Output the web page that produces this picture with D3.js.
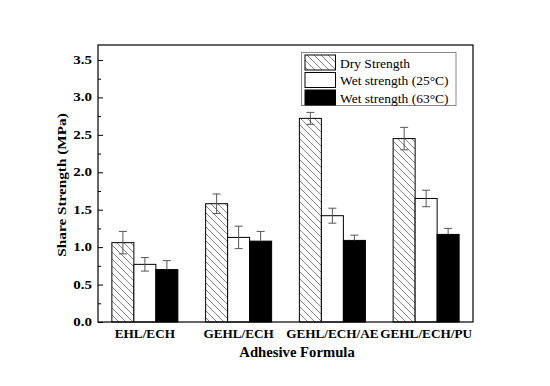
<!DOCTYPE html>
<html><head><meta charset="utf-8">
<script src="https://cdn.jsdelivr.net/npm/d3@7"></script>
<style>body{margin:0;background:#fff}svg{display:block}text{font-family:"Liberation Serif","Times New Roman",Times,serif}</style>
</head><body>
<script>
const categories = ["EHL/ECH", "GEHL/ECH", "GEHL/ECH/AE", "GEHL/ECH/PU"];
const seriesNames = ["Dry Strength", "Wet strength (25°C)", "Wet strength (63°C)"];
const dryValues = [1.06, 1.58, 2.72, 2.45];
const dryErrors = [0.15, 0.13, 0.08, 0.15];
const wet25Values = [0.77, 1.13, 1.42, 1.65];
const wet25Errors = [0.09, 0.15, 0.10, 0.11];
const wet63Values = [0.70, 1.08, 1.09, 1.17];
const wet63Errors = [0.12, 0.13, 0.07, 0.08];
const yTicks = [0.0, 0.5, 1.0, 1.5, 2.0, 2.5, 3.0, 3.5];
const yMinorTicks = [0.25, 0.75, 1.25, 1.75, 2.25, 2.75, 3.25];

const W = 550, H = 386;
const L = 98, R = 473, T = 45, B = 322;

const svg = d3.select("body").append("svg").attr("width", W).attr("height", H);
const defs = svg.append("defs");
const pat = defs.append("pattern").attr("id", "hatch").attr("patternUnits", "userSpaceOnUse")
  .attr("width", 7).attr("height", 7);
pat.append("rect").attr("width", 7).attr("height", 7).attr("fill", "#fff");
pat.append("path").attr("d", "M0,0 L7,7 M-1,6 L1,8 M6,-1 L8,1")
  .attr("stroke", "#777").attr("stroke-width", 0.9);

const fills = ["url(#hatch)", "#fff", "#000"];
const data = [
  {vals: dryValues, errs: dryErrors},
  {vals: wet25Values, errs: wet25Errors},
  {vals: wet63Values, errs: wet63Errors}
];

const x = d3.scaleBand().domain(categories).range([L, R]).paddingInner(0.296).paddingOuter(0.148);
const xs = d3.scaleBand().domain(d3.range(seriesNames.length)).range([0, x.bandwidth()]).padding(0);
const y = d3.scaleLinear().domain([0, 3.7]).range([B, T]);

data.forEach((s, si) => {
  const g = svg.append("g");
  g.selectAll("rect").data(categories).join("rect")
    .attr("x", c => x(c) + xs(si))
    .attr("y", (c, i) => y(s.vals[i]))
    .attr("width", xs.bandwidth())
    .attr("height", (c, i) => y(0) - y(s.vals[i]))
    .attr("fill", fills[si])
    .attr("stroke", "#000").attr("stroke-width", 1);
  categories.forEach((c, i) => {
    const cx = x(c) + xs(si) + xs.bandwidth() / 2;
    const top = y(s.vals[i] + s.errs[i]);
    const bot = si === 2 ? y(s.vals[i]) : y(s.vals[i] - s.errs[i]);
    const eg = svg.append("g").attr("stroke", "#555").attr("stroke-width", 1);
    eg.append("line").attr("x1", cx).attr("x2", cx).attr("y1", top).attr("y2", bot);
    eg.append("line").attr("x1", cx - 4).attr("x2", cx + 4).attr("y1", top).attr("y2", top);
    if (si !== 2) eg.append("line").attr("x1", cx - 4).attr("x2", cx + 4).attr("y1", bot).attr("y2", bot);
  });
});

svg.append("rect").attr("x", L).attr("y", T).attr("width", R - L).attr("height", B - T)
  .attr("fill", "none").attr("stroke", "#000").attr("stroke-width", 1.2);

const yAxis = svg.append("g").attr("transform", `translate(${L},0)`)
  .call(d3.axisRight(y).tickValues(yTicks).tickSize(5).tickFormat(""));
yAxis.select(".domain").remove();
const yMinor = svg.append("g").attr("transform", `translate(${L},0)`)
  .call(d3.axisRight(y).tickValues(yMinorTicks).tickSize(3).tickFormat(""));
yMinor.select(".domain").remove();

svg.append("g").selectAll("text").data(yTicks).join("text")
  .attr("transform", d => `translate(92,${y(d) + 4}) scale(1.25,1)`)
  .attr("text-anchor", "end")
  .style("font-weight", "bold").style("font-size", "12px")
  .text(d3.format(".1f"));

svg.append("g").selectAll("text").data(categories).join("text")
  .attr("transform", c => `translate(${x(c) + x.bandwidth() / 2},338) scale(1.15,1)`)
  .attr("text-anchor", "middle")
  .style("font-weight", "bold").style("font-size", "11.5px")
  .text(c => c);

svg.append("text").attr("transform", "translate(297,357) scale(1.05,1)")
  .attr("text-anchor", "middle").style("font-weight", "bold")
  .style("font-size", "14px").text("Adhesive Formula");
svg.append("text").attr("transform", "translate(66,185) rotate(-90) scale(1.22,1)")
  .attr("text-anchor", "middle").style("font-weight", "bold")
  .style("font-size", "12.5px").text("Share Strength (MPa)");

const lg = svg.append("g");
lg.append("rect").attr("x", 301.5).attr("y", 52.5).attr("width", 154.5).attr("height", 53)
  .attr("fill", "#fff").attr("stroke", "#888").attr("stroke-width", 1);
seriesNames.forEach((n, i) => {
  const ry = 55 + i * 17.5;
  lg.append("rect").attr("x", 305).attr("y", ry).attr("width", 30.5).attr("height", 15)
    .attr("fill", fills[i]).attr("stroke", "#000").attr("stroke-width", 1);
  lg.append("text").attr("x", 340).attr("y", ry + 12.5)
    .style("font-size", "13.5px").attr("fill", "#000").text(n);
});
</script>
</body></html>
